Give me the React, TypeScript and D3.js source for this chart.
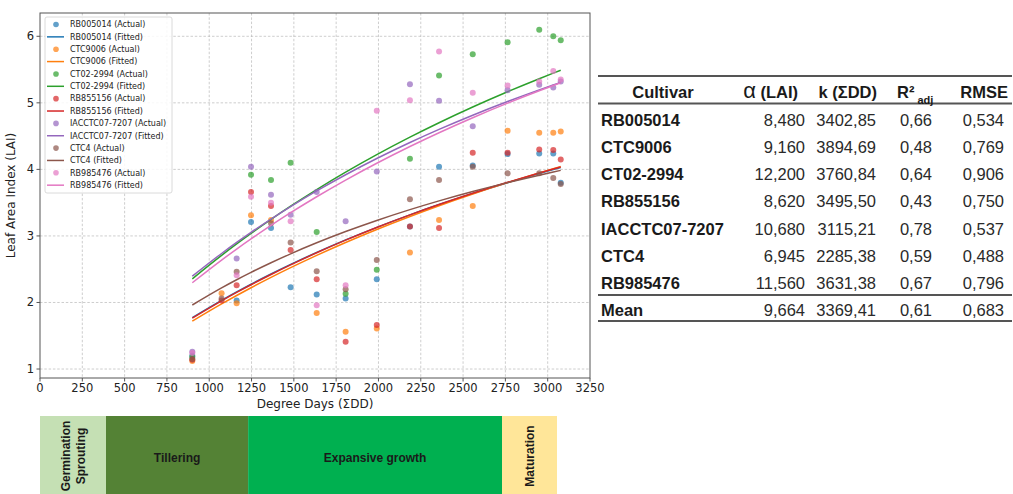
import React from "react";
import * as d3 from "d3";

// ---------- data ----------
const cultivars = ["RB005014", "CTC9006", "CT02-2994", "RB855156", "IACCTC07-7207", "CTC4", "RB985476"];
const colors = ["#1f77b4", "#ff7f0e", "#2ca02c", "#d62728", "#9467bd", "#8c564b", "#e377c2"];

const alphaLAI = [8.48, 9.16, 12.2, 8.62, 10.68, 6.945, 11.56];
const kDD = [3402.85, 3894.69, 3760.84, 3495.5, 3115.21, 2285.38, 3631.38];

const alphaText = ["8,480", "9,160", "12,200", "8,620", "10,680", "6,945", "11,560"];
const kText = ["3402,85", "3894,69", "3760,84", "3495,50", "3115,21", "2285,38", "3631,38"];
const r2Text = ["0,66", "0,48", "0,64", "0,43", "0,78", "0,59", "0,67"];
const rmseText = ["0,534", "0,769", "0,906", "0,750", "0,537", "0,488", "0,796"];
const meanRow = ["Mean", "9,664", "3369,41", "0,61", "0,683"];

const degreeDays = [900, 1073, 1162, 1247, 1365, 1481, 1635, 1806, 1990, 2186, 2358, 2557, 2763, 2950, 3033, 3077];
const laiRB005014 = [1.2, null, 2.03, 3.21, 3.12, 2.23, 2.12, 2.06, 2.35, 3.14, 4.04, 4.06, 4.23, 4.24, 4.24, 3.8];
const laiCTC9006 = [1.12, 2.14, 1.99, 3.31, 3.24, null, 1.84, 1.56, 1.61, 2.75, 3.24, 3.45, 4.58, 4.55, 4.55, 4.57];
const laiCT022994 = [1.18, null, null, 3.92, 3.84, 4.1, 3.06, 2.13, 2.49, 4.16, 5.41, 5.73, 5.91, 6.1, 6.0, 5.94];
const laiRB855156 = [1.14, 2.03, 2.26, 3.66, 3.45, 2.79, 2.35, 1.41, 1.66, 3.14, 3.12, 4.25, 4.25, 4.3, 4.29, 4.15];
const laiIACCTC077207 = [1.26, null, 2.66, 4.04, 3.62, 3.32, 3.66, 3.22, 3.97, 5.28, 5.03, 4.65, 5.19, 5.27, 5.23, 5.32];
const laiCTC4 = [1.15, 2.06, 2.46, null, 3.19, 2.9, 2.47, 2.2, 2.64, 3.55, 3.84, 4.04, 3.94, 3.94, 3.87, 3.78];
const laiRB985476 = [1.24, null, 2.41, 3.59, 3.5, 3.22, 1.96, 2.26, 4.88, 5.04, 5.77, 5.15, 5.26, 5.32, 5.48, 5.35];
const laiSeries = [laiRB005014, laiCTC9006, laiCT022994, laiRB855156, laiIACCTC077207, laiCTC4, laiRB985476];

const xTicks = [0, 250, 500, 750, 1000, 1250, 1500, 1750, 2000, 2250, 2500, 2750, 3000, 3250];
const yTicks = [1, 2, 3, 4, 5, 6];

const phaseNames = ["Germination\nSprouting", "Tillering", "Expansive growth", "Maturation"];
const phaseBounds = [0, 390, 1230, 2730, 3055];
const phaseColors = ["#c5e0b4", "#548235", "#00b050", "#ffe699"];
const phaseVertical = [true, false, false, true];

// ---------- layout ----------
const W = 1013;
const H = 494;
const plot = { left: 40, right: 590, top: 13, bottom: 378 };

export default function App() {
  const x = d3.scaleLinear().domain([0, 3250]).range([plot.left, plot.right]);
  const y = d3.scaleLinear().domain([0.865, 6.35]).range([plot.bottom, plot.top]);
  const fitted = (i: number) => (dd: number) => (alphaLAI[i] * dd) / (kDD[i] + dd);
  const line = d3
    .line<number>()
    .x((d) => x(d))
    .curve(d3.curveMonotoneX);

  const sans = "DejaVu Sans, sans-serif";
  const arial = "Liberation Sans, Arial, sans-serif";

  // table geometry
  const tLeft = 598;
  const tRight = 1012;
  const headerY = 92.5;
  const rowY0 = 120;
  const rowStep = 27.2;
  const colName = 601;
  const colAlpha = 805;
  const colK = 876;
  const colR2 = 916;
  const colRmse = 1004;

  const legendItems: { label: string; color: string; kind: "dot" | "line" }[] = [];
  cultivars.forEach((c, i) => {
    legendItems.push({ label: `${c} (Actual)`, color: colors[i], kind: "dot" });
    legendItems.push({ label: `${c} (Fitted)`, color: colors[i], kind: "line" });
  });

  return (
    <svg
      width={W}
      height={H}
      style={{ position: "absolute", left: 0, top: 0, background: "#fff" }}
      xmlns="http://www.w3.org/2000/svg"
    >
      <rect x={0} y={0} width={W} height={H} fill="#fff" />
      {/* grid */}
      <g stroke="#b8b8b8" strokeWidth={0.7} strokeDasharray="2.5,1.8">
        {xTicks.slice(1, -1).map((t) => (
          <line key={"gx" + t} x1={x(t)} x2={x(t)} y1={plot.top} y2={plot.bottom} />
        ))}
        {yTicks.map((t) => (
          <line key={"gy" + t} x1={plot.left} x2={plot.right} y1={y(t)} y2={y(t)} />
        ))}
      </g>

      {/* series */}
      {cultivars.map((c, i) => (
        <g key={c}>
          {degreeDays.map((dd, j) =>
            laiSeries[i][j] == null ? null : (
              <circle
                key={j}
                cx={x(dd)}
                cy={y(laiSeries[i][j] as number)}
                r={3}
                fill={colors[i]}
                fillOpacity={0.7}
              />
            )
          )}
          <path
            d={line.y((dd) => y(fitted(i)(dd)))(degreeDays) || ""}
            fill="none"
            stroke={colors[i]}
            strokeWidth={1.5}
          />
        </g>
      ))}

      {/* frame */}
      <rect
        x={plot.left}
        y={plot.top}
        width={plot.right - plot.left}
        height={plot.bottom - plot.top}
        fill="none"
        stroke="#555"
        strokeWidth={1}
      />

      {/* ticks */}
      <g fontFamily={sans} fontSize={11.5} fill="#222">
        {xTicks.map((t) => (
          <g key={"tx" + t}>
            <line x1={x(t)} x2={x(t)} y1={plot.bottom} y2={plot.bottom + 3.5} stroke="#555" />
            <text x={x(t)} y={plot.bottom + 14} textAnchor="middle">
              {t}
            </text>
          </g>
        ))}
        {yTicks.map((t) => (
          <g key={"ty" + t}>
            <line x1={plot.left - 3.5} x2={plot.left} y1={y(t)} y2={y(t)} stroke="#555" />
            <text x={plot.left - 6} y={y(t)} dy="0.35em" textAnchor="end">
              {t}
            </text>
          </g>
        ))}
      </g>
      <text x={315} y={408} textAnchor="middle" fontFamily={sans} fontSize={12} fill="#222">
        Degree Days (ΣDD)
      </text>
      <text
        transform={`translate(15,${(plot.top + plot.bottom) / 2}) rotate(-90)`}
        textAnchor="middle"
        fontFamily={sans}
        fontSize={12}
        fill="#222"
      >
        Leaf Area Index (LAI)
      </text>

      {/* legend */}
      <rect x={45} y={17} width={127} height={176} rx={2} fill="#fff" fillOpacity={0.85} stroke="#d0d0d0" strokeWidth={0.8} />
      {legendItems.map((it, k) => {
        const ly = 24.5 + k * 12.36;
        return (
          <g key={it.label}>
            {it.kind === "dot" ? (
              <circle cx={56} cy={ly} r={2.8} fill={it.color} fillOpacity={0.7} />
            ) : (
              <line x1={47} x2={64} y1={ly} y2={ly} stroke={it.color} strokeWidth={1.5} />
            )}
            <text x={70} y={ly} dy="0.35em" fontFamily={sans} fontSize={8} fill="#222">
              {it.label}
            </text>
          </g>
        );
      })}

      {/* phase bar */}
      {phaseNames.map((p, i) => {
        const x0 = x(phaseBounds[i]);
        const x1 = x(phaseBounds[i + 1]);
        const cx = (x0 + x1) / 2;
        const cy = 456;
        const lines = p.split("\n");
        return (
          <g key={p}>
            <rect x={x0} y={416} width={x1 - x0} height={H - 416} fill={phaseColors[i]} />
            {phaseVertical[i] ? (
              lines.map((ln, k) => (
                <text
                  key={ln}
                  transform={`translate(${cx + (k - (lines.length - 1) / 2) * 15},${cy}) rotate(-90)`}
                  textAnchor="middle"
                  dy="0.35em"
                  fontFamily={arial}
                  fontWeight="bold"
                  fontSize={12}
                  fill="#1a1a1a"
                >
                  {ln}
                </text>
              ))
            ) : (
              <text x={cx} y={458} dy="0.35em" textAnchor="middle" fontFamily={arial} fontWeight="bold" fontSize={12} fill="#1a1a1a">
                {p}
              </text>
            )}
          </g>
        );
      })}

      {/* table */}
      <g fontFamily={arial} fontSize={16.5} fill="#1a1a1a">
        <line x1={tLeft} x2={tRight} y1={76} y2={76} stroke="#555" strokeWidth={2} />
        <line x1={tLeft} x2={tRight} y1={103.5} y2={103.5} stroke="#555" strokeWidth={2} />
        <line x1={tLeft} x2={tRight} y1={295} y2={295} stroke="#555" strokeWidth={2} />
        <line x1={tLeft} x2={tRight} y1={321} y2={321} stroke="#555" strokeWidth={2} />

        <g fontWeight="bold">
          <text x={663} y={headerY} dy="0.35em" textAnchor="middle">Cultivar</text>
          <text x={798} y={headerY} dy="0.35em" textAnchor="end">
            <tspan fontSize={22} fontWeight="normal">α</tspan>
            <tspan> (LAI)</tspan>
          </text>
          <text x={877} y={headerY} dy="0.35em" textAnchor="end">k (ΣDD)</text>
          <text x={897} y={headerY} dy="0.35em">
            R²
            <tspan fontSize={11} dy={6}> adj</tspan>
          </text>
          <text x={1008} y={headerY} dy="0.35em" textAnchor="end">RMSE</text>
        </g>

        {cultivars.map((c, i) => {
          const ry = rowY0 + i * rowStep;
          return (
            <g key={"row" + c}>
              <text x={colName} y={ry} dy="0.35em" fontWeight="bold">{c}</text>
              <text x={colAlpha} y={ry} dy="0.35em" textAnchor="end" fill="#2a2a2a">{alphaText[i]}</text>
              <text x={colK} y={ry} dy="0.35em" textAnchor="end" fill="#2a2a2a">{kText[i]}</text>
              <text x={colR2} y={ry} dy="0.35em" textAnchor="middle" fill="#2a2a2a">{r2Text[i]}</text>
              <text x={colRmse} y={ry} dy="0.35em" textAnchor="end" fill="#2a2a2a">{rmseText[i]}</text>
            </g>
          );
        })}
        <g>
          <text x={colName} y={310.5} dy="0.35em" fontWeight="bold">{meanRow[0]}</text>
          <text x={colAlpha} y={310.5} dy="0.35em" textAnchor="end" fill="#2a2a2a">{meanRow[1]}</text>
          <text x={colK} y={310.5} dy="0.35em" textAnchor="end" fill="#2a2a2a">{meanRow[2]}</text>
          <text x={colR2} y={310.5} dy="0.35em" textAnchor="middle" fill="#2a2a2a">{meanRow[3]}</text>
          <text x={colRmse} y={310.5} dy="0.35em" textAnchor="end" fill="#2a2a2a">{meanRow[4]}</text>
        </g>
      </g>
    </svg>
  );
}
